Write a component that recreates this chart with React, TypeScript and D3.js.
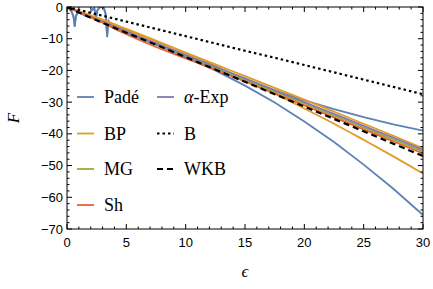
import React, { useEffect, useRef } from 'react';
import * as d3 from 'd3';

// epsilon grid for the smooth curves
const epsGrid = [0, 2.5, 5, 7.5, 10, 12.5, 15, 17.5, 20, 22.5, 25, 27.5, 30];

const wkbF = [0, -4.2, -8.1, -11.9, -15.8, -19.7, -23.6, -27.5, -31.4, -35.3, -39.2, -43.1, -47];
const bF = [0, -2.3, -4.6, -6.9, -9.2, -11.5, -13.8, -16, -18.3, -20.6, -22.9, -25.2, -27.5];
const alphaExpF = [0, -3.9, -7.7, -11.4, -15.1, -18.8, -22.5, -26.2, -30, -33.7, -37.5, -41.2, -45];
const mgF = [0, -4, -7.8, -11.6, -15.3, -19.1, -22.9, -26.7, -30.4, -34.2, -38, -41.8, -45.6];
const shF = [0, -4.1, -8.6, -12.6, -16.2, -19.8, -23.5, -27.3, -31, -34.8, -38.6, -42.4, -46.2];
const bpUpperF = [0, -3.6, -7.2, -10.8, -14.4, -18.1, -21.8, -25.5, -29.2, -33, -36.8, -40.6, -44.5];
const bpLowerF = [0, -3.3, -6.9, -10.6, -14.5, -18.6, -22.9, -27.3, -32, -36.8, -41.9, -47.1, -52.5];

// Padé has poles near the origin, so it gets its own finer grid
const padeEps = [0, 0.2, 0.4, 0.55, 0.65, 0.75, 0.9, 1.1, 1.4, 1.7, 1.9, 2.1, 2.3, 2.45, 2.55, 2.7, 2.9, 3.1, 3.25, 3.38, 3.5, 3.7, 4, 5, 7.5, 10, 12.5, 15, 17.5, 20, 22.5, 25, 27.5, 30];
const padeUpperF = [0, -0.6, -1.5, -3, -6.3, -3, -1.8, -1.5, -2.4, -2.9, -2, -0.8, -0.4, -3.5, -1.2, -0.3, 0.3, -0.2, -2, -9.5, -4.5, -6, -6.6, -8, -11.8, -15.7, -19.6, -23.1, -26.4, -29.4, -32.2, -34.7, -37, -39];
const padeLowerF = [0, -0.6, -1.6, -3.2, -5.8, -2.8, -1.7, -1.6, -2.5, -3, -2.1, -0.9, -0.5, -3.2, -1.1, -0.4, 0.2, -0.3, -2.2, -8.8, -4.3, -6.1, -6.7, -8.1, -11.9, -15.8, -20, -24.8, -30.1, -36.1, -42.6, -49.7, -57.3, -65.6];

const xTicks = [0, 5, 10, 15, 20, 25, 30];
const yTicks = [0, -10, -20, -30, -40, -50, -60, -70];

const colors = {
  pade: '#5e81b5',
  bp: '#e19c24',
  mg: '#8fb032',
  sh: '#eb6235',
  alpha: '#8778b3',
};

const App = () => {
  const ref = useRef<SVGSVGElement>(null);

  useEffect(() => {
    const svg = d3.select(ref.current);
    svg.selectAll('*').remove();

    const left = 67, right = 423, top = 7, bottom = 229;

    const x = d3.scaleLinear().domain([0, 30]).range([left, right]);
    const y = d3.scaleLinear().domain([-70, 0]).range([bottom, top]);

    svg.append('clipPath').attr('id', 'plotclip')
      .append('rect')
      .attr('x', left).attr('y', top)
      .attr('width', right - left).attr('height', bottom - top);

    const g = svg.append('g').attr('clip-path', 'url(#plotclip)');

    const line = d3.line<[number, number]>()
      .x(d => x(d[0]))
      .y(d => y(d[1]))
      .curve(d3.curveMonotoneX);

    const padeLine = d3.line<[number, number]>()
      .x(d => x(d[0]))
      .y(d => y(d[1]))
      .curve(d3.curveLinear);

    const zip = (xs: number[], ys: number[]) => xs.map((v, i) => [v, ys[i]] as [number, number]);

    const series = [
      { pts: zip(padeEps, padeUpperF), color: colors.pade, dash: null, gen: padeLine },
      { pts: zip(padeEps, padeLowerF), color: colors.pade, dash: null, gen: padeLine },
      { pts: zip(epsGrid, bpUpperF), color: colors.bp, dash: null, gen: line },
      { pts: zip(epsGrid, bpLowerF), color: colors.bp, dash: null, gen: line },
      { pts: zip(epsGrid, mgF), color: colors.mg, dash: null, gen: line },
      { pts: zip(epsGrid, alphaExpF), color: colors.alpha, dash: null, gen: line },
      { pts: zip(epsGrid, shF), color: colors.sh, dash: null, gen: line },
      { pts: zip(epsGrid, bF), color: '#000', dash: '2.5,3', gen: line },
      { pts: zip(epsGrid, wkbF), color: '#000', dash: '6,4', gen: line },
    ];

    series.forEach(s => {
      g.append('path')
        .attr('d', s.gen(s.pts))
        .attr('fill', 'none')
        .attr('stroke', s.color)
        .attr('stroke-width', s.dash ? 2.2 : 1.8)
        .attr('stroke-dasharray', s.dash);
    });

    // frame
    svg.append('rect')
      .attr('x', left).attr('y', top)
      .attr('width', right - left).attr('height', bottom - top)
      .attr('fill', 'none').attr('stroke', '#000').attr('stroke-width', 1);

    // ticks pointing inward on all four sides
    const ticks = svg.append('g').attr('stroke', '#000').attr('stroke-width', 1);
    d3.range(0, 31, 1).forEach(v => {
      const len = v % 5 === 0 ? 5 : 2.5;
      ticks.append('line').attr('x1', x(v)).attr('x2', x(v)).attr('y1', bottom).attr('y2', bottom - len);
      ticks.append('line').attr('x1', x(v)).attr('x2', x(v)).attr('y1', top).attr('y2', top + len);
    });
    d3.range(-70, 1, 2).forEach(v => {
      const len = v % 10 === 0 ? 5 : 2.5;
      ticks.append('line').attr('y1', y(v)).attr('y2', y(v)).attr('x1', left).attr('x2', left + len);
      ticks.append('line').attr('y1', y(v)).attr('y2', y(v)).attr('x1', right).attr('x2', right - len);
    });

    const tickFont = 'Liberation Sans, Arial, sans-serif';
    svg.append('g').selectAll('text').data(xTicks).enter().append('text')
      .attr('x', d => x(d)).attr('y', bottom + 18)
      .attr('text-anchor', 'middle')
      .attr('font-family', tickFont).attr('font-size', 13)
      .text(d => String(d));

    svg.append('g').selectAll('text').data(yTicks).enter().append('text')
      .attr('x', left - 4).attr('y', d => y(d) + 4.5)
      .attr('text-anchor', 'end')
      .attr('font-family', tickFont).attr('font-size', 13)
      .text(d => (d < 0 ? '\u2212' + Math.abs(d) : String(d)));

    const serif = 'Liberation Serif, Times New Roman, serif';
    svg.append('text')
      .attr('x', 245).attr('y', 277)
      .attr('text-anchor', 'middle')
      .attr('font-family', serif).attr('font-style', 'italic').attr('font-size', 17)
      .text('\u03f5');

    svg.append('text')
      .attr('transform', 'translate(19,118) rotate(-90)')
      .attr('text-anchor', 'middle')
      .attr('font-family', serif).attr('font-style', 'italic').attr('font-size', 17)
      .text('F');

    // legend
    const legend = [
      { label: 'Padé', color: colors.pade, dash: null, col: 0, row: 0 },
      { label: 'BP', color: colors.bp, dash: null, col: 0, row: 1 },
      { label: 'MG', color: colors.mg, dash: null, col: 0, row: 2 },
      { label: 'Sh', color: colors.sh, dash: null, col: 0, row: 3 },
      { label: '\u03b1-Exp', color: colors.alpha, dash: null, col: 1, row: 0 },
      { label: 'B', color: '#000', dash: '2.5,3', col: 1, row: 1 },
      { label: 'WKB', color: '#000', dash: '6,4', col: 1, row: 2 },
    ];
    const colX = [77, 157];
    const rowY = [97, 133.5, 169, 205];
    legend.forEach(l => {
      const lx = colX[l.col], ly = rowY[l.row];
      svg.append('line')
        .attr('x1', lx).attr('x2', lx + 17).attr('y1', ly).attr('y2', ly)
        .attr('stroke', l.color).attr('stroke-width', l.dash ? 2.2 : 1.8)
        .attr('stroke-dasharray', l.dash);
      const t = svg.append('text')
        .attr('x', lx + 27).attr('y', ly + 6)
        .attr('font-family', serif).attr('font-size', 18);
      if (l.label.startsWith('\u03b1')) {
        t.append('tspan').attr('font-style', 'italic').text('\u03b1');
        t.append('tspan').text('-Exp');
      } else {
        t.text(l.label);
      }
    });
  }, []);

  return (
    <svg ref={ref} width={433} height={289} style={{ position: 'absolute', left: 0, top: 0, background: '#fff' }}></svg>
  );
};

export default App;
